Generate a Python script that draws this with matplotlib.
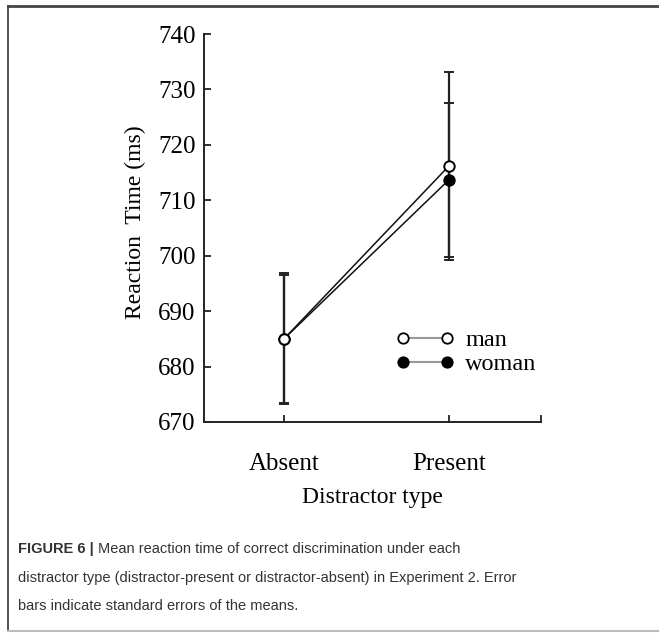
import matplotlib
matplotlib.use("Agg")
import matplotlib.pyplot as plt
from matplotlib.lines import Line2D

categories = ["Absent", "Present"]
man_means = [685.0, 716.2]
man_se = [11.8, 17.0]
woman_means = [685.0, 713.7]
woman_se = [11.6, 13.9]
y_ticks = [670, 680, 690, 700, 710, 720, 730, 740]

W, H = 659, 633
fig = plt.figure(figsize=(W / 100, H / 100), dpi=100)
fig.patch.set_facecolor("white")

def fx(px):
    return px / W

def fy(py):
    return 1 - py / H

serif = ["Liberation Serif", "DejaVu Serif"]
ax = fig.add_axes([fx(204), fy(422), fx(541) - fx(204), fy(34) - fy(422)])
x = [1, 2]
ax.set_xlim(0.515, 2.558)
ax.set_ylim(670, 740)

for means, se in [(woman_means, woman_se), (man_means, man_se)]:
    ax.errorbar(x, means, yerr=se, fmt="none", ecolor="#222222", elinewidth=1.6,
                capsize=3.6, capthick=1.4, zorder=2)
for means, fc in [(woman_means, "black"), (man_means, "white")]:
    ax.plot(x, means, color="#111111", lw=1.1, marker="o", ms=7.5,
            mfc=fc, mec="black", mew=1.4, zorder=3)

for s in ["top", "right"]:
    ax.spines[s].set_visible(False)
for s in ["left", "bottom"]:
    ax.spines[s].set_linewidth(1.4)
    ax.spines[s].set_color("#222222")
ax.set_yticks(y_ticks)
ax.set_yticklabels([str(v) for v in y_ticks], family=serif, fontsize=18)
ax.set_xticks([1, 2, 2.558])
ax.set_xticklabels(categories + [""], family=serif, fontsize=18)
ax.tick_params(direction="in", length=5, width=1.3, color="#222222", pad=6)
ax.tick_params(axis="x", pad=22)
ax.set_ylabel("Reaction  Time (ms)", family=serif, fontsize=17)
ax.yaxis.set_label_coords(-0.172, 0.515)
ax.set_xlabel("Distractor type", family=serif, fontsize=17, labelpad=9)

h_man = Line2D([], [], color="#999999", lw=1.5, marker="o", ms=7.5, mfc="white", mec="black", mew=1.3)
h_woman = Line2D([], [], color="#999999", lw=1.5, marker="o", ms=7.5, mfc="black", mec="black", mew=1.3)
ax.legend([h_man, h_woman], ["man", "woman"], numpoints=2, frameon=False,
          loc="upper left", bbox_to_anchor=(0.505, 0.296), handlelength=2.4,
          handletextpad=0.45, labelspacing=0.1, prop={"family": serif, "size": 17.5})

# frame lines
fig.add_artist(Line2D([fx(8), 1], [fy(6), fy(6)], color="#444444", lw=2))
fig.add_artist(Line2D([fx(8), fx(8)], [fy(6), fy(631)], color="#444444", lw=1.3))
fig.add_artist(Line2D([fx(8), 1], [fy(631), fy(631)], color="#bbbbbb", lw=1.5))

sans = ["Liberation Sans", "DejaVu Sans"]
fs = 10.5
cap_color = "#333333"
t0 = fig.text(fx(18), fy(549), "FIGURE 6 |", family=sans, fontsize=fs, weight="bold",
              color=cap_color, va="center")
fig.canvas.draw()
bb = t0.get_window_extent()
fig.text((bb.x1 + 4) / W, fy(549), "Mean reaction time of correct discrimination under each",
         family=sans, fontsize=fs, color=cap_color, va="center")
fig.text(fx(18), fy(578), "distractor type (distractor-present or distractor-absent) in Experiment 2. Error",
         family=sans, fontsize=fs, color=cap_color, va="center")
fig.text(fx(18), fy(606), "bars indicate standard errors of the means.",
         family=sans, fontsize=fs, color=cap_color, va="center")

fig.savefig("out.png", dpi=100)
